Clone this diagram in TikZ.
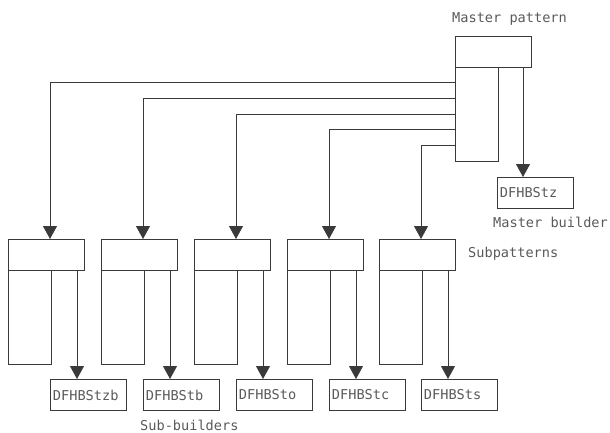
\documentclass[tikz,border=0pt]{standalone}
\usepackage{fontspec}
\setmonofont{DejaVu Sans Mono}
\usetikzlibrary{arrows.meta}
\definecolor{linec}{HTML}{3A3A3A}
\definecolor{textc}{HTML}{5A5A5A}
\tikzset{
  box/.style={draw=linec, line width=0.9pt, fill=white, inner sep=0pt, anchor=north west},
  toprect/.style={box, minimum width=76pt, minimum height=31pt},
  colrect/.style={box, minimum width=43pt, minimum height=94pt},
  bldrect/.style={box, minimum width=76pt, minimum height=31pt, text width=71pt, align=left, font=\ttfamily\fontsize{13.6}{14}\selectfont, text=textc},
  lbl/.style={font=\ttfamily\fontsize{13.6}{14}\selectfont, text=textc, anchor=west, inner sep=0pt},
  conn/.style={draw=linec, line width=0.9pt},
  arr/.style={conn, -{Triangle[width=14pt,length=13pt]}}
}
\begin{document}
\begin{tikzpicture}[x=1pt,y=-1pt]
\path[use as bounding box] (0,0) rectangle (610,433);
% master pattern
\node[colrect] (mcol) at (455,67) {};
\node[toprect] (mtop) at (455,36) {};
\node[lbl] (mlbl) at (452,19) {Master pattern};
\node[bldrect] (mb) at (497,177) {DFHBStz};
\node[lbl] (mblbl) at (493,222) {Master builder};
\coordinate (ma) at (523,67);
\draw[arr] (ma) -- (ma |- mb.north);
% subpatterns
\foreach \i/\xl/\yy/\name in {1/8/82/DFHBStzb,2/101/98/DFHBStb,3/194/114/DFHBSto,4/287/129/DFHBStc,5/379/145/DFHBSts}{
  \node[colrect] (scol\i) at (\xl,270) {};
  \node[toprect] (stop\i) at (\xl,239) {};
  \node[bldrect] (sb\i) at (\xl+42,379) {\name};
  \coordinate (sa\i) at (\xl+69,270);
  \draw[arr] (sa\i) -- (sa\i |- sb\i.north);
  \coordinate (mc\i) at (455,\yy);
  \draw[arr] (mc\i) -| (stop\i.north -| \xl+42,0);
}
\node[lbl] (splbl) at (468,254) {Subpatterns};
\node[lbl] (sblbl) at (140,425) {Sub-builders};
\end{tikzpicture}
\end{document}
